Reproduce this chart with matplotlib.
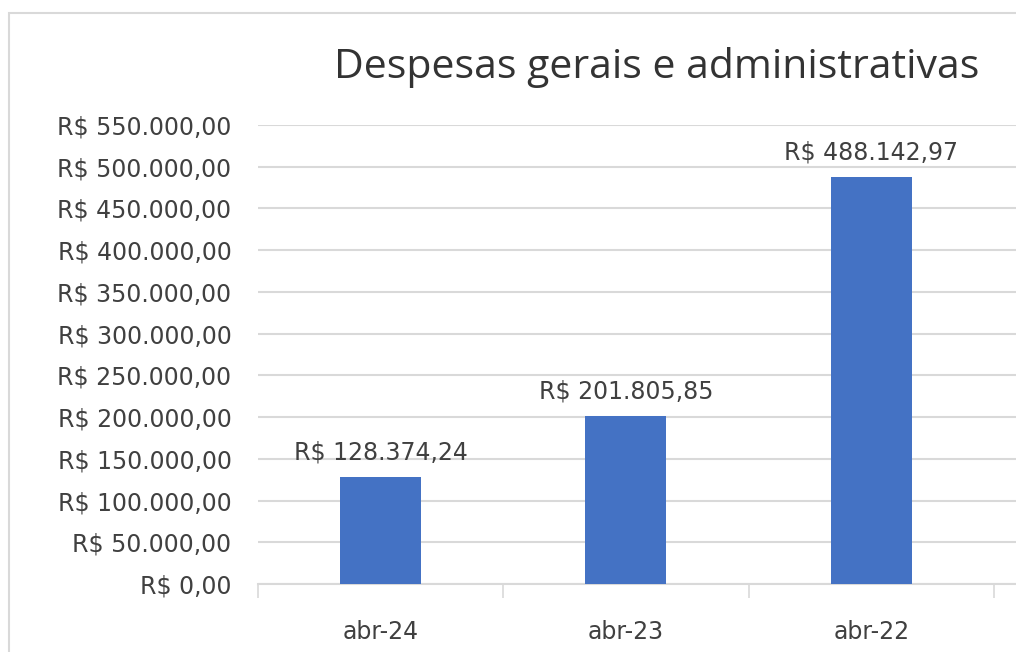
import matplotlib.pyplot as plt
from matplotlib.patches import Rectangle
from matplotlib.ticker import FuncFormatter, FixedLocator

# dados
categorias = ["abr-24", "abr-23", "abr-22"]
valores = [128374.24, 201805.85, 488142.97]
titulo = "Despesas gerais e administrativas"

COR_BARRA = "#4472C4"
COR_TEXTO = "#404040"
COR_GRADE = "#D9D9D9"


def brl(v):
    s = f"{v:,.2f}"
    s = s.replace(",", "X").replace(".", ",").replace("X", ".")
    return f"R$ {s}"


plt.rcParams["font.family"] = ["DejaVu Sans"]

fig = plt.figure(figsize=(10.16, 6.52), dpi=100)
W, H = 1016, 652

# moldura do gráfico (cortada à direita e embaixo)
fig.patches.append(Rectangle((9 / W, -0.1), 1.2, 1 - 13 / H + 0.1,
                             transform=fig.transFigure, fill=False,
                             edgecolor=COR_GRADE, linewidth=1.5))

ax = fig.add_axes([258 / W, 1 - 584 / H, (W - 258) / W, (584 - 125) / H])

x = range(len(categorias))
barras = ax.bar(x, valores, width=0.33, color=COR_BARRA, zorder=3)

passo = 245.3
ax.set_xlim(-0.5, -0.5 + (W - 258) / passo)
ax.set_ylim(0, 550000)
ax.set_yticks(range(0, 550001, 50000))
ax.yaxis.set_major_formatter(FuncFormatter(lambda v, p: brl(v)))

ax.set_xticks(list(x))
ax.set_xticklabels(categorias)
ax.xaxis.set_minor_locator(FixedLocator([-0.5, 0.5, 1.5, 2.5]))

ax.tick_params(axis="y", length=0, pad=19, labelsize=17, labelcolor=COR_TEXTO)
ax.tick_params(axis="x", which="major", length=0, pad=26, labelsize=17,
               labelcolor=COR_TEXTO)
ax.tick_params(axis="x", which="minor", length=10, width=1.2, color=COR_GRADE)

ax.grid(axis="y", color=COR_GRADE, linewidth=1.5, zorder=0)
for lado in ["top", "right", "left"]:
    ax.spines[lado].set_visible(False)
ax.spines["bottom"].set_color(COR_GRADE)
ax.spines["bottom"].set_linewidth(1.5)

for b, v in zip(barras, valores):
    ax.annotate(brl(v), (b.get_x() + b.get_width() / 2, v),
                xytext=(0, 9), textcoords="offset points",
                ha="center", va="bottom", fontsize=17, color=COR_TEXTO)

fig.text(657 / W, 1 - 68 / H, titulo, ha="center", va="center",
         fontsize=29.5, color="#333333", family=["Open Sans", "DejaVu Sans"])

fig.savefig("out.png", dpi=100)
